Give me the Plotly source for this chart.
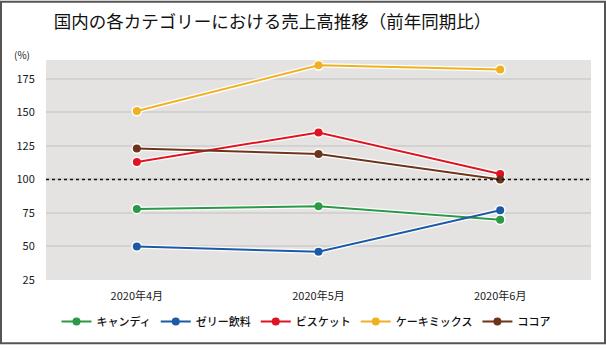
import plotly.graph_objects as go

categories = ["2020年4月", "2020年5月", "2020年6月"]
series_names = ["キャンディ", "ゼリー飲料", "ビスケット", "ケーキミックス", "ココア"]
candy = [78, 80, 70]
jelly = [50, 46, 77]
biscuit = [113, 135, 104]
cakemix = [151, 185, 182]
cocoa = [123, 119, 100]
y_ticks = [25, 50, 75, 100, 125, 150, 175]
colors = ["#2a9a47", "#1c5aa6", "#e01420", "#efb022", "#6e3419"]

values = [candy, jelly, biscuit, cakemix, cocoa]
FONT = "Noto Sans CJK JP"

fig = go.Figure()
# white halo under lines
for vals in values:
    fig.add_trace(go.Scatter(x=categories, y=vals, mode="lines+markers",
                             line=dict(color="white", width=4.5),
                             marker=dict(size=11, color="white"),
                             showlegend=False, hoverinfo="skip"))
for name, vals, c in zip(series_names, values, colors):
    fig.add_trace(go.Scatter(x=categories, y=vals, mode="lines+markers", name=name,
                             line=dict(color=c, width=2),
                             marker=dict(size=8, color=c)))

W, H = 606, 348
L, R, T, B = 46, 15, 60, 65
pw, ph = W - L - R, H - T - B

fig.update_layout(
    width=W, height=H,
    margin=dict(l=L, r=R, t=T, b=B),
    paper_bgcolor="white", plot_bgcolor="#e4e3e1",
    font=dict(family=FONT, size=11, color="#1a1a1a"),
    title=dict(text="国内の各カテゴリーにおける売上高推移（前年同期比）",
               x=272.5 / W, xanchor="center", xref="container",
               y=1 - 22 / H, yanchor="middle", yref="container",
               font=dict(size=17.5, color="#111", family=FONT)),
    xaxis=dict(type="category", range=[-0.5, 2.5], showgrid=False, zeroline=False,
               ticks="outside", ticklen=6, tickcolor="rgba(0,0,0,0)",
               tickfont=dict(size=11, color="#1a1a1a")),
    yaxis=dict(range=[25, 189], tickvals=y_ticks, showgrid=True, gridcolor="#d3d2d0",
               gridwidth=1.5, zeroline=False, ticks="outside", ticklen=8,
               tickcolor="rgba(0,0,0,0)", tickfont=dict(size=11, color="#1a1a1a")),
    legend=dict(orientation="h", x=(306 - L) / pw, xanchor="center",
                y=(283 - 325) / ph, yanchor="middle",
                font=dict(size=11, color="#111", weight=500), itemwidth=30,
                traceorder="normal"),
    showlegend=True,
)

fig.add_shape(type="line", xref="paper", yref="y", x0=0, x1=1, y0=100, y1=100,
              line=dict(color="#111", width=1.5, dash="dot"))
fig.add_shape(type="rect", xref="paper", yref="paper",
              x0=(1 - L) / pw, x1=(W - 1 - L) / pw,
              y0=(283 - (H - 1)) / ph, y1=(283 - 1) / ph,
              line=dict(color="#555", width=2), fillcolor="rgba(0,0,0,0)", layer="above")
fig.add_annotation(text="(%)", xref="paper", yref="paper",
                   x=(22 - L) / pw, y=(283 - 54) / ph, showarrow=False,
                   font=dict(size=10, color="#222"), xanchor="center", yanchor="middle")

fig.write_html("out.html")
